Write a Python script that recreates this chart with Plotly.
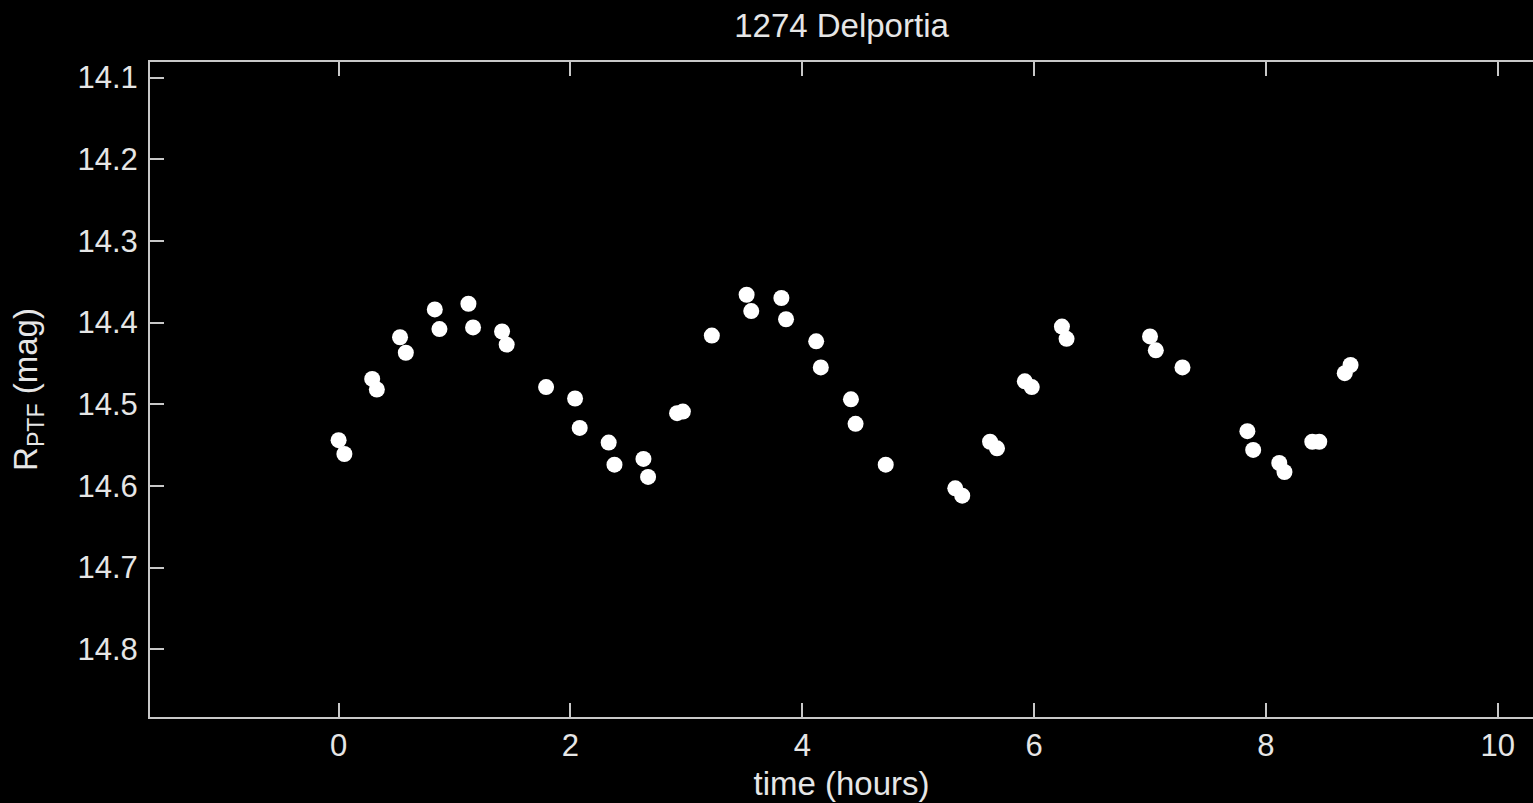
import plotly.graph_objects as go

# time (hours)
time_h = [0.00, 0.05, 0.29, 0.33, 0.53, 0.58, 0.83, 0.87, 1.12, 1.16,
          1.41, 1.45, 1.79, 2.04, 2.08, 2.33, 2.38, 2.63, 2.67, 2.92,
          2.97, 3.22, 3.52, 3.56, 3.82, 3.86, 4.12, 4.16, 4.42, 4.46,
          4.72, 5.32, 5.38, 5.62, 5.68, 5.92, 5.98, 6.24, 6.28, 7.00,
          7.05, 7.28, 7.84, 7.89, 8.115, 8.16, 8.40, 8.46, 8.68, 8.73]
# R_PTF magnitude
mag = [14.544, 14.561, 14.469, 14.482, 14.418, 14.437, 14.384, 14.408, 14.377, 14.406,
       14.411, 14.427, 14.479, 14.493, 14.529, 14.547, 14.574, 14.567, 14.589, 14.511,
       14.509, 14.416, 14.366, 14.386, 14.370, 14.396, 14.423, 14.455, 14.494, 14.524,
       14.574, 14.603, 14.612, 14.546, 14.554, 14.472, 14.479, 14.405, 14.420, 14.417,
       14.434, 14.455, 14.533, 14.556, 14.572, 14.583, 14.546, 14.546, 14.462, 14.452]

x_ticks = [0, 2, 4, 6, 8, 10]
y_ticks = [14.1, 14.2, 14.3, 14.4, 14.5, 14.6, 14.7, 14.8]

AX = "#c8c8c8"
TXT = "#e6e6e6"
FONT = "Liberation Sans, Arial, sans-serif"

fig = go.Figure()
fig.add_trace(go.Scatter(
    x=time_h, y=mag, mode="markers",
    marker=dict(color="white", size=16, line=dict(width=0)),
    showlegend=False,
))

fig.update_layout(
    width=1533, height=803,
    paper_bgcolor="black", plot_bgcolor="black",
    margin=dict(l=150, r=0, t=62, b=86),
    font=dict(family=FONT, color=TXT, size=31),
    title=dict(text="1274 Delportia", x=0.5, xref="paper", y=1 - 25 / 803,
               yref="container", yanchor="middle", xanchor="center",
               font=dict(size=33, color=TXT)),
    xaxis=dict(
        range=[-1.627, 10.304], tickvals=x_ticks, ticktext=[str(v) for v in x_ticks],
        showgrid=False, zeroline=False, showline=True, linecolor=AX, linewidth=2,
        mirror="ticks", ticks="inside", ticklen=14, tickwidth=2, tickcolor=AX,
        tickfont=dict(size=31, color=TXT),
        title=dict(text="time (hours)", font=dict(size=33, color=TXT), standoff=10),
    ),
    yaxis=dict(
        range=[14.883, 14.081], tickvals=y_ticks, ticktext=[f"{v:.1f}" for v in y_ticks],
        showgrid=False, zeroline=False, showline=True, linecolor=AX, linewidth=2,
        ticks="inside", ticklen=14, tickwidth=2, tickcolor=AX,
        tickfont=dict(size=31, color=TXT), ticklabelstandoff=4,
        title=dict(text="R<sub>PTF</sub> (mag)", font=dict(size=33, color=TXT), standoff=30),
    ),
    yaxis2=dict(
        range=[14.883, 14.081], tickvals=y_ticks, overlaying="y", side="right",
        anchor="x", showgrid=False, zeroline=False, showline=False,
        ticks="inside", ticklen=8, tickwidth=2, tickcolor=AX, showticklabels=False,
    ),
)

fig.write_html("out.html")
